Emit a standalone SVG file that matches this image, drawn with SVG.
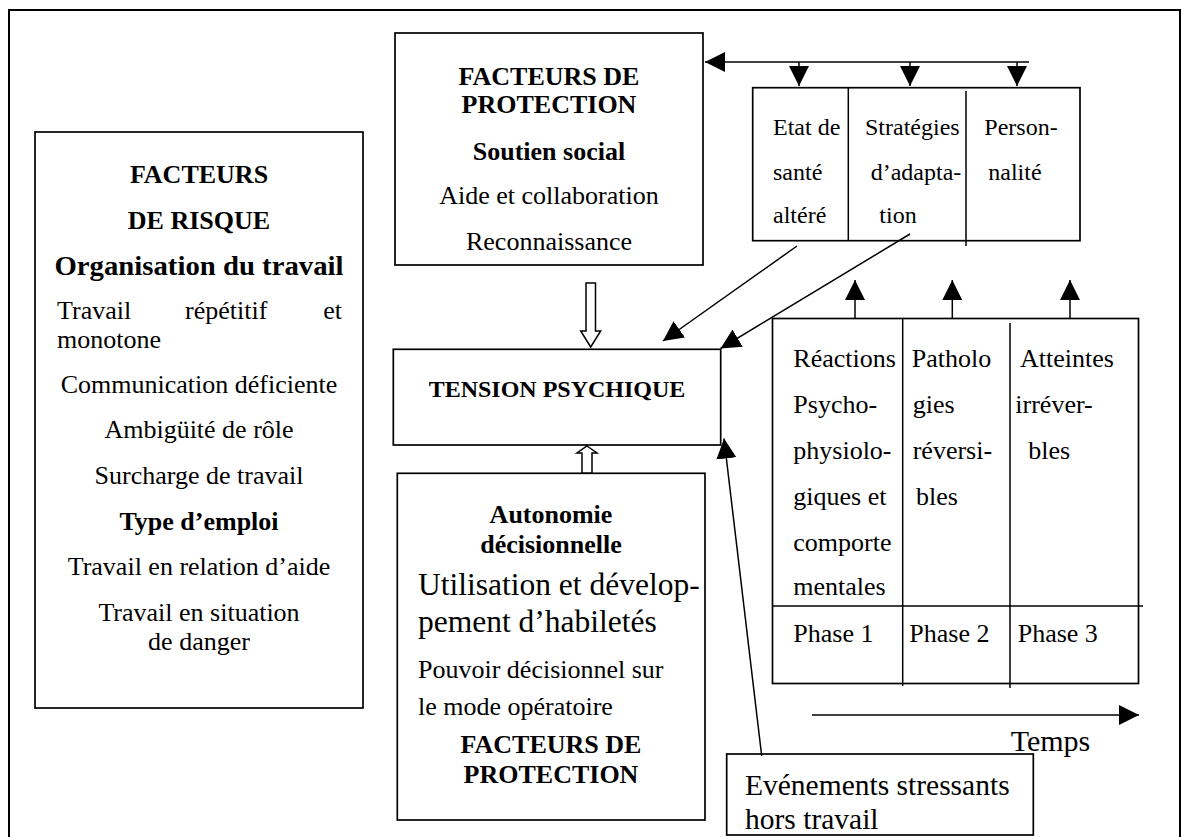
<svg xmlns="http://www.w3.org/2000/svg" width="1182" height="837" viewBox="0 0 1182 837">
<style>
  .box{fill:#fff;stroke:#000;stroke-width:1.7}
  .ln{fill:none;stroke:#000;stroke-width:1.5}
  .hol{fill:#fff;stroke:#000;stroke-width:1.5}
  text{font-family:"Liberation Serif","Times New Roman",serif;fill:#000}
  .r26{font-size:26px}
  .b26{font-size:26px;font-weight:bold}
  .r24{font-size:24px}
  .c{text-anchor:middle}
</style>
<defs>
  <marker id="ah" markerUnits="userSpaceOnUse" markerWidth="20" markerHeight="20" viewBox="0 0 20 20" refX="20" refY="10" orient="auto">
    <path d="M0,0 L20,10 L0,20 z" fill="#000"/>
  </marker>
</defs>
<rect width="1182" height="837" fill="#fff"/>
<path id="frame" d="M9,850 L9,10 L1180,10 L1180,850" fill="none" stroke="#000" stroke-width="2"/>

<g id="risque">
  <rect class="box" x="35" y="132" width="328" height="576"/>
  <text class="b26 c" x="199" y="183">FACTEURS</text>
  <text class="b26 c" x="199" y="229">DE RISQUE</text>
  <text class="c" x="199" y="275" style="font-size:28px;font-weight:bold" textLength="289" lengthAdjust="spacingAndGlyphs">Organisation du travail</text>
  <text class="r26" x="57" y="319">Travail</text>
  <text class="r26" x="185" y="319">répétitif</text>
  <text class="r26" x="342" y="319" text-anchor="end">et</text>
  <text class="r26" x="57" y="348">monotone</text>
  <text class="r26 c" x="199" y="393">Communication déficiente</text>
  <text class="r26 c" x="199" y="438">Ambigüité de rôle</text>
  <text class="r26 c" x="199" y="484">Surcharge de travail</text>
  <text class="b26 c" x="199" y="530">Type d’emploi</text>
  <text class="r26 c" x="199" y="575">Travail en relation d’aide</text>
  <text class="r26 c" x="199" y="621">Travail en situation</text>
  <text class="r26 c" x="199" y="650">de danger</text>
</g>

<g id="protection">
  <rect class="box" x="395" y="33" width="308" height="232"/>
  <text class="b26 c" x="549" y="85">FACTEURS DE</text>
  <text class="b26 c" x="549" y="113">PROTECTION</text>
  <text class="b26 c" x="549" y="160">Soutien social</text>
  <text class="r26 c" x="549" y="204">Aide et collaboration</text>
  <text class="r26 c" x="549" y="250">Reconnaissance</text>
</g>

<g id="individu">
  <rect class="box" x="752.7" y="87.7" width="327.3" height="153"/>
  <line class="ln" x1="848.3" y1="88" x2="848.3" y2="241"/>
  <line class="ln" x1="966" y1="91" x2="966" y2="246"/>
  <text class="r24" x="773" y="135">Etat de</text>
  <text class="r24" x="773" y="180">santé</text>
  <text class="r24" x="773" y="223">altéré</text>
  <text class="r24" x="865" y="135">Stratégies</text>
  <text class="r24" x="870.7" y="180">d’adapta-</text>
  <text class="r24" x="879.3" y="223">tion</text>
  <text class="r24" x="984.3" y="135">Person-</text>
  <text class="r24" x="988.3" y="180">nalité</text>
</g>

<g id="tension">
  <rect class="box" x="393.3" y="349.3" width="327.4" height="95.7"/>
  <text class="c" x="557" y="397" style="font-size:24px;font-weight:bold">TENSION PSYCHIQUE</text>
</g>

<g id="autonomie">
  <rect class="box" x="397.3" y="473.3" width="307.7" height="346.7"/>
  <text class="b26 c" x="551" y="523">Autonomie</text>
  <text class="b26 c" x="551" y="553">décisionnelle</text>
  <text x="418" y="595" style="font-size:31.5px">Utilisation et dévelop-</text>
  <text x="418" y="632" style="font-size:31.5px">pement d’habiletés</text>
  <text class="r26" x="418" y="678">Pouvoir décisionnel sur</text>
  <text class="r26" x="418" y="715">le mode opératoire</text>
  <text class="b26 c" x="551" y="753">FACTEURS DE</text>
  <text class="b26 c" x="551" y="783">PROTECTION</text>
</g>

<g id="phases">
  <rect class="box" x="772.5" y="318.5" width="366" height="365"/>
  <line class="ln" x1="902.7" y1="318.5" x2="902.7" y2="686"/>
  <line class="ln" x1="1010" y1="323" x2="1010" y2="688"/>
  <line class="ln" x1="772.5" y1="606" x2="1143" y2="606"/>
  <text class="r26" x="793.3" y="367">Réactions</text>
  <text class="r26" x="793.3" y="413">Psycho-</text>
  <text class="r26" x="793.3" y="459">physiolo-</text>
  <text class="r26" x="793.3" y="505">giques et</text>
  <text class="r26" x="793.3" y="551">comporte</text>
  <text class="r26" x="793.3" y="595">mentales</text>
  <text class="r26" x="911.7" y="367">Patholo</text>
  <text class="r26" x="912.7" y="413">gies</text>
  <text class="r26" x="912.7" y="459">réversi-</text>
  <text class="r26" x="916" y="505">bles</text>
  <text class="r26" x="1020" y="367">Atteintes</text>
  <text class="r26" x="1015.3" y="413">irréver-</text>
  <text class="r26" x="1028.3" y="459">bles</text>
  <text class="r26" x="793.3" y="642">Phase 1</text>
  <text class="r26" x="909.3" y="642">Phase 2</text>
  <text class="r26" x="1017.7" y="642">Phase 3</text>
</g>

<g id="temps">
  <text x="1010.7" y="751" style="font-size:30px">Temps</text>
</g>

<g id="evenements">
  <rect class="box" x="726.7" y="754" width="306.6" height="81"/>
  <text x="745" y="795" style="font-size:29.5px">Evénements stressants</text>
  <text x="745" y="829" style="font-size:29.5px">hors travail</text>
</g>

<g id="connectors">
  <line class="ln" x1="1029" y1="62" x2="705" y2="62" marker-end="url(#ah)"/>
  <line class="ln" x1="799" y1="62" x2="799" y2="86" marker-end="url(#ah)"/>
  <line class="ln" x1="910" y1="62" x2="910" y2="86" marker-end="url(#ah)"/>
  <line class="ln" x1="1017" y1="62" x2="1017" y2="86" marker-end="url(#ah)"/>
  <line class="ln" x1="855" y1="318" x2="855" y2="280" marker-end="url(#ah)"/>
  <line class="ln" x1="952.3" y1="318" x2="952.3" y2="280" marker-end="url(#ah)"/>
  <line class="ln" x1="1070" y1="318" x2="1070" y2="280" marker-end="url(#ah)"/>
  <line class="ln" x1="797" y1="246" x2="663" y2="341" marker-end="url(#ah)"/>
  <line class="ln" x1="910" y1="234" x2="720.5" y2="348.5" marker-end="url(#ah)"/>
  <line class="ln" x1="761.7" y1="756" x2="724" y2="438.5" marker-end="url(#ah)"/>
  <line class="ln" x1="812" y1="715" x2="1139" y2="715" marker-end="url(#ah)"/>
  <polygon class="hol" points="586,283 595.5,283 595.5,331 600.7,331 590.7,347 580.7,331 586,331"/>
  <polygon class="hol" points="587,446 597,453 592,453 592,473 582,473 582,453 577,453"/>
</g>
</svg>
